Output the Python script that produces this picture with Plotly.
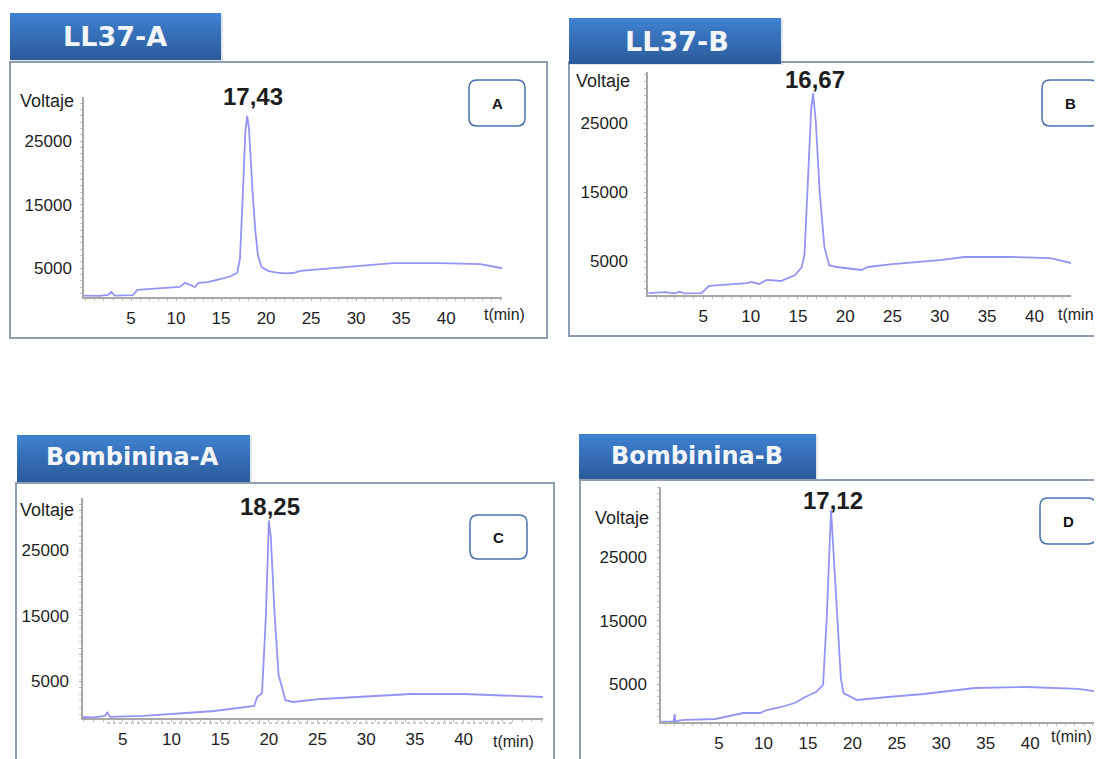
import plotly.graph_objects as go

# ---------------- data ----------------
panel_titles = ["LL37-A", "LL37-B", "Bombinina-A", "Bombinina-B"]
panel_letters = ["A", "B", "C", "D"]
peak_labels = ["17,43", "16,67", "18,25", "17,12"]

time_A = [-0.2, 1.5, 2.5, 2.8, 3.2, 5.2, 5.7, 8.0, 10.4, 11.0, 11.6, 12.1, 12.5, 13.5, 14.9, 16.0,
          16.8, 17.1, 17.4, 17.7, 17.9, 18.1, 18.5, 18.8, 19.1, 19.5, 20.2, 21.2, 22.2, 23.0, 23.8,
          26.3, 29.7, 34.1, 39.3, 43.8, 46.2]
volt_A = [700, 650, 800, 1300, 700, 750, 1600, 1800, 2050, 2700, 2300, 2050, 2700, 2800, 3300, 3700,
          4300, 6500, 16000, 26500, 29000, 27000, 17000, 11000, 7000, 5200, 4600, 4300, 4200, 4250, 4600,
          4900, 5200, 5800, 5800, 5650, 5000]

time_B = [-0.8, 1.0, 2.0, 2.5, 3.0, 4.8, 5.6, 7.5, 9.6, 10.1, 10.9, 11.7, 13.2, 14.7, 15.4, 15.7,
          16.0, 16.4, 16.6, 16.9, 17.3, 17.8, 18.3, 19.1, 21.7, 22.4, 25.0, 30.0, 32.6, 37.3, 41.7, 43.9]
volt_B = [350, 500, 300, 550, 300, 350, 1380, 1550, 1800, 1960, 1670, 2250, 2100, 2970, 4100, 6000,
          15000, 27000, 29350, 25000, 15000, 7000, 4400, 4130, 3700, 4130, 4560, 5140, 5580, 5580, 5430, 4700]

time_C = [0.9, 2.0, 3.2, 3.4, 3.7, 7.1, 11.5, 14.4, 18.5, 18.8, 19.3, 19.7, 20.0, 20.2, 20.6,
          21.0, 21.7, 22.5, 25.4, 29.1, 34.6, 40.0, 45.6, 48.2]
volt_C = [-460, -500, -300, 300, -450, -300, 150, 460, 1220, 2590, 3200, 15000, 29500, 27000, 15000,
          6000, 2100, 1830, 2290, 2590, 3050, 3050, 2740, 2590]

time_D = [-1.5, -0.1, 0.0, 0.1, 0.6, 1.2, 4.6, 7.7, 9.6, 10.4, 12.0, 13.5, 14.7, 15.9, 16.7, 17.1,
          17.6, 18.3, 18.7, 19.0, 20.5, 24.0, 28.0, 33.8, 39.6, 45.4, 48.0]
volt_D = [-900, -900, 300, -900, -700, -600, -470, 470, 470, 940, 1415, 2040, 2990, 3770, 4900, 15000,
          32400, 15000, 6000, 3600, 2520, 2990, 3460, 4400, 4560, 4250, 3770]

x_tick_vals = [5, 10, 15, 20, 25, 30, 35, 40]
x_tick_text = ["5", "10", "15", "20", "25", "30", "35", "40"]
y_tick_vals = [5000, 15000, 25000]
y_tick_text = ["5000", "15000", "25000"]

# ---------------- layout helpers ----------------
# the page body adds an 8 px margin, so the figure is drawn 8 px in from the corner
OFF = 8
W, H = 1102 - OFF, 759 - OFF
def PX(x):
    return (x - OFF) / W
def PY(y):
    return 1 - (y - OFF) / H

LINE_COLOR = "#9494f4"
TEXT_COLOR = "#1e1e1e"
FONT = "Liberation Sans, Arial, sans-serif"

panels = [
    dict(t=time_A, v=volt_A, xd=(84, 502), yd=(297, 97), xr=(-0.22, 46.2), yr=(472, 31969),
         box=(10, 62, 547, 338), tab=(10, 13, 221, 60), tabtxt=(115, 36),
         lbox=(469, 80, 525, 126), peak=(253, 96), volt=(47, 101), tmin=(504, 314),
         ystand=5, size=27),
    dict(t=time_B, v=volt_B, xd=(648, 1071), yd=(295, 72), xr=(-0.85, 43.87), yr=(72, 32391),
         box=(569, 62, 1112, 336), tab=(569, 18, 781, 64), tabtxt=(677, 41),
         lbox=(1042, 80, 1098, 126), peak=(815, 80), volt=(603, 81), tmin=(1078, 314),
         ystand=13, size=27),
    dict(t=time_C, v=volt_C, xd=(83, 543), yd=(718, 498), xr=(0.92, 48.15), yr=(-610, 32927),
         box=(16, 483, 554, 772), tab=(17, 435, 250, 482), tabtxt=(132, 457),
         lbox=(470, 515, 527, 559), peak=(270, 507), volt=(47, 510), tmin=(513, 741),
         ystand=7, size=24),
    dict(t=time_D, v=volt_D, xd=(661, 1102), yd=(722, 487), xr=(-1.53, 48.08), yr=(-943, 36006),
         box=(580, 480, 1112, 772), tab=(579, 434, 816, 479), tabtxt=(697, 456),
         lbox=(1040, 498, 1096, 544), peak=(833, 501), volt=(622, 518), tmin=(1071, 736),
         ystand=7, size=24),
]

fig = go.Figure()
shapes = []
annotations = []

def rounded_rect(x0, y0, x1, y1, r=8):
    rx, ry = r / W, r / H
    X0, X1 = PX(x0), PX(x1)
    Y0, Y1 = PY(y1), PY(y0)
    return (f"M {X0+rx},{Y1} L {X1-rx},{Y1} Q {X1},{Y1} {X1},{Y1-ry} "
            f"L {X1},{Y0+ry} Q {X1},{Y0} {X1-rx},{Y0} L {X0+rx},{Y0} "
            f"Q {X0},{Y0} {X0},{Y0+ry} L {X0},{Y1-ry} Q {X0},{Y1} {X0+rx},{Y1} Z")

def lerp_color(c1, c2, f):
    a = [int(c1[i:i+2], 16) for i in (1, 3, 5)]
    b = [int(c2[i:i+2], 16) for i in (1, 3, 5)]
    return "#" + "".join(f"{int(round(a[k] + (b[k]-a[k])*f)):02x}" for k in range(3))

for i, p in enumerate(panels):
    n = "" if i == 0 else str(i + 1)
    fig.add_trace(go.Scatter(x=p["t"], y=p["v"], mode="lines",
                             line=dict(color=LINE_COLOR, width=1.8),
                             xaxis="x" + n, yaxis="y" + n, showlegend=False,
                             hoverinfo="x+y"))
    xa = dict(domain=[PX(p["xd"][0]), min(1.0, PX(p["xd"][1]))], range=list(p["xr"]),
              anchor="y" + n, showgrid=False, zeroline=False,
              showline=True, linecolor="#a8a8a8", linewidth=1.5,
              tickvals=x_tick_vals, ticktext=x_tick_text,
              ticks="outside", ticklen=2, tickcolor="#b0b0b0",
              minor=dict(ticks="outside", ticklen=2, tickcolor="#c0c0c0", dtick=1),
              tickfont=dict(family=FONT, size=17, color=TEXT_COLOR),
              ticklabelstandoff=3, fixedrange=True)
    ya = dict(domain=[PY(p["yd"][0]), PY(p["yd"][1])], range=list(p["yr"]),
              anchor="x" + n, showgrid=False, zeroline=False,
              showline=True, linecolor="#a8a8a8", linewidth=1.5,
              tickvals=y_tick_vals, ticktext=y_tick_text,
              ticks="outside", ticklen=2, tickcolor="#b0b0b0",
              minor=dict(ticks="outside", ticklen=2, tickcolor="#c0c0c0", dtick=1000),
              tickfont=dict(family=FONT, size=17, color=TEXT_COLOR),
              ticklabelstandoff=p["ystand"], fixedrange=True)
    fig.update_layout(**{"xaxis" + n: xa, "yaxis" + n: ya})

    # panel frame
    bx0, by0, bx1, by1 = p["box"]
    shapes.append(dict(type="rect", xref="paper", yref="paper",
                       x0=PX(bx0), x1=PX(bx1), y0=PY(by1), y1=PY(by0),
                       line=dict(color="#8e9db2", width=2), fillcolor="rgba(0,0,0,0)",
                       layer="above"))
    # tab: shadow, solid base, then overlapping gradient bands
    tx0, ty0, tx1, ty1 = p["tab"]
    shapes.append(dict(type="rect", xref="paper", yref="paper",
                       x0=PX(tx0 + 1), x1=PX(tx1 + 2), y0=PY(ty1 + 1), y1=PY(ty0 + 1),
                       line=dict(width=0), fillcolor="rgba(140,150,170,0.25)", layer="above"))
    shapes.append(dict(type="rect", xref="paper", yref="paper",
                       x0=PX(tx0), x1=PX(tx1), y0=PY(ty1), y1=PY(ty0),
                       line=dict(width=0), fillcolor="#356dba", layer="above"))
    nb = 10
    for k in range(nb):
        ya0 = ty0 + (ty1 - ty0) * k / nb
        ya1 = min(ty1, ty0 + (ty1 - ty0) * (k + 1) / nb + 1.5)
        col = lerp_color("#3f80cf", "#2b5c9c", k / (nb - 1))
        shapes.append(dict(type="rect", xref="paper", yref="paper",
                           x0=PX(tx0), x1=PX(tx1), y0=PY(ya1), y1=PY(ya0),
                           line=dict(width=0), fillcolor=col, layer="above"))
    annotations.append(dict(x=PX(p["tabtxt"][0]), y=PY(p["tabtxt"][1]), xref="paper", yref="paper",
                            text="<b>" + panel_titles[i] + "</b>", showarrow=False,
                            xanchor="center", yanchor="middle",
                            font=dict(family="DejaVu Sans, sans-serif", size=p["size"], color="#f2f5fa")))
    # letter box
    lx0, ly0, lx1, ly1 = p["lbox"]
    shapes.append(dict(type="path", xref="paper", yref="paper",
                       path=rounded_rect(lx0, ly0, lx1, ly1, 8),
                       line=dict(color="#4a70ad", width=1.5), fillcolor="white", layer="above"))
    annotations.append(dict(x=PX((lx0 + lx1) / 2), y=PY((ly0 + ly1) / 2), xref="paper", yref="paper",
                            text="<b>" + panel_letters[i] + "</b>", showarrow=False,
                            xanchor="center", yanchor="middle",
                            font=dict(family=FONT, size=15, color="#111111")))
    # peak label
    annotations.append(dict(x=PX(p["peak"][0]), y=PY(p["peak"][1]), xref="paper", yref="paper",
                            text="<b>" + peak_labels[i] + "</b>", showarrow=False,
                            xanchor="center", yanchor="middle",
                            font=dict(family=FONT, size=24, color=TEXT_COLOR)))
    # axis titles
    annotations.append(dict(x=PX(p["volt"][0]), y=PY(p["volt"][1]), xref="paper", yref="paper",
                            text="Voltaje", showarrow=False, xanchor="center", yanchor="middle",
                            font=dict(family=FONT, size=18, color=TEXT_COLOR)))
    annotations.append(dict(x=PX(p["tmin"][0]), y=PY(p["tmin"][1]), xref="paper", yref="paper",
                            text="t(min)", showarrow=False, xanchor="center", yanchor="middle",
                            font=dict(family=FONT, size=16, color=TEXT_COLOR)))

# extra dotted scale line under panel C axis
shapes.append(dict(type="line", xref="paper", yref="paper",
                   x0=PX(107), x1=PX(514), y0=PY(723), y1=PY(723),
                   line=dict(color="#b8b8b8", width=1.5, dash="dot"), layer="above"))

fig.update_layout(width=W, height=H, margin=dict(l=0, r=0, t=0, b=0),
                  paper_bgcolor="white", plot_bgcolor="white",
                  shapes=shapes, annotations=annotations, showlegend=False)

fig.write_html("out.html")
